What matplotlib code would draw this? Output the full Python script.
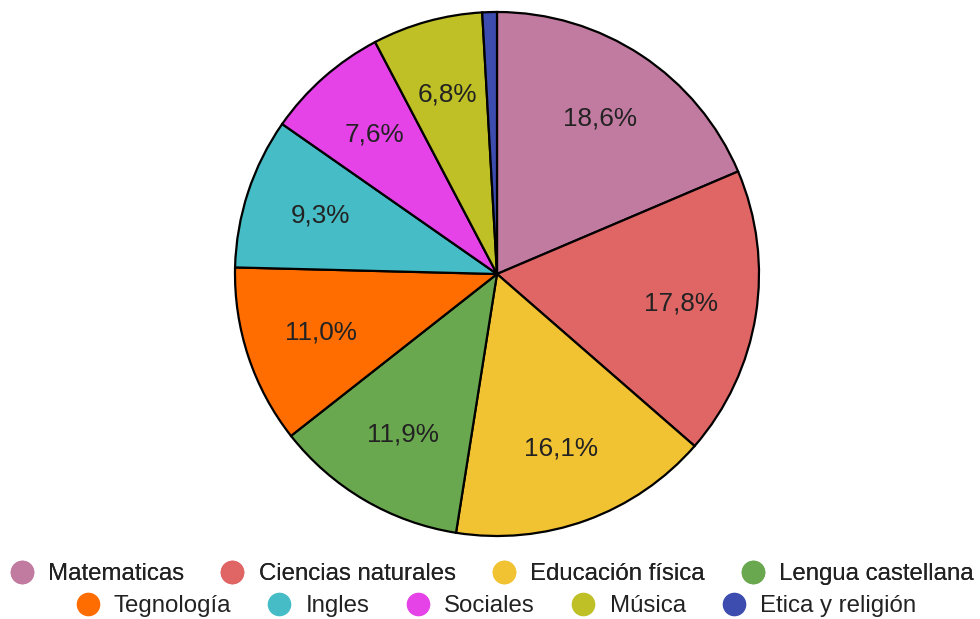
import matplotlib.pyplot as plt
from matplotlib.lines import Line2D

plt.rcParams['font.family'] = ['Liberation Sans', 'DejaVu Sans']

# Datos de la gráfica
materias = ['Matematicas', 'Ciencias naturales', 'Educación física', 'Lengua castellana',
            'Tegnología', 'Ingles', 'Sociales', 'Música', 'Etica y religión']
porcentajes = [18.6, 17.8, 16.1, 11.9, 11.0, 9.3, 7.6, 6.8, 0.9]
colores = ['#C27BA0', '#E06666', '#F1C232', '#6AA84F', '#FF6D01',
           '#46BDC6', '#E542E8', '#BFBF26', '#3C4CAF']
etiquetas = ['18,6%', '17,8%', '16,1%', '11,9%', '11,0%', '9,3%', '7,6%', '6,8%', '']

fig = plt.figure(figsize=(9.8, 6.19), dpi=100)
ax = fig.add_axes([(497 - 262) / 980, (619 - 536) / 619, 524 / 980, 524 / 619])

wedges, textos = ax.pie(porcentajes, colors=colores, labels=etiquetas, labeldistance=0.71,
                        startangle=90, counterclock=False,
                        wedgeprops={'edgecolor': 'black', 'linewidth': 1.6})
for t in textos:
    t.set_ha('center')
    t.set_va('center')
    t.set_fontsize(18.8)
    t.set_color('#222222')
ax.set_xlim(-1, 1)
ax.set_ylim(-1, 1)
ax.set_aspect('equal')

# Leyenda en dos filas
def handles(idx):
    return [Line2D([], [], marker='o', linestyle='', markersize=16,
                   markerfacecolor=colores[i], markeredgecolor=colores[i]) for i in idx]

fila1 = list(range(4))
fila2 = list(range(4, 9))
opts = dict(loc='center', frameon=False, fontsize=17.3, handlelength=1.0,
            handletextpad=0.6, columnspacing=1.5, labelcolor='#222222')
leg1 = fig.legend(handles(fila1), [materias[i] for i in fila1], ncol=4,
                  bbox_to_anchor=(0.502, 1 - 574 / 619), **opts)
fig.add_artist(leg1)
fig.legend(handles(fila2), [materias[i] for i in fila2], ncol=5,
           bbox_to_anchor=(0.506, 1 - 606 / 619), **opts)

plt.savefig('out.png', dpi=100)
